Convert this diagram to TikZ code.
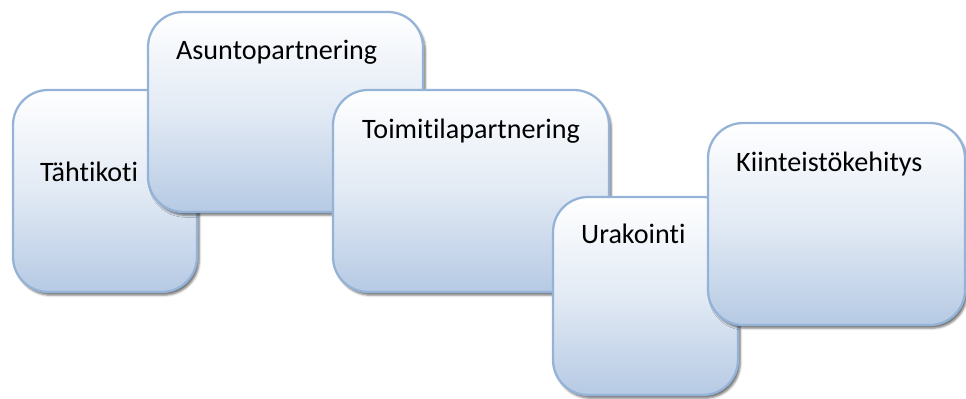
\documentclass[tikz,border=0pt]{standalone}
\usepackage{fontspec}
\setmainfont{Carlito}[Ligatures=NoCommon]
\usetikzlibrary{positioning, calc, shadows.blur}
\definecolor{edge}{RGB}{149, 179, 215}
\definecolor{deep}{RGB}{182, 202, 228}
\tikzset{
    card/.style={rectangle, rounded corners=20pt, draw=edge, line width=1.3pt, top color=white, bottom color=deep, middle color=deep!40, blur shadow={shadow xshift=1.3pt, shadow yshift=-1.8pt, shadow blur radius=1.2pt, shadow opacity=55}, inner sep=0pt},
    lbl/.style={anchor=base west, inner sep=0pt, font=\fontsize{16}{19}\selectfont}
}
\begin{document}
\begin{tikzpicture}
    \useasboundingbox (0,0) rectangle (19.32,7.96);
    \node[card, minimum width=3.68cm, minimum height=4.04cm] (koti) at (2.10,4.14) {};
    \node[lbl] (kotitxt) at ($(koti.north west)+(0.56,-1.86)$) {Tähtikoti};
    \node[card, minimum width=5.50cm, minimum height=4.00cm] (asunto) at (5.71,5.72) {};
    \node[lbl] (asuntotxt) at ($(asunto.north west)+(0.58,-0.98)$) {Asuntopartnering};
    \node[card, minimum width=5.52cm, minimum height=4.04cm] (toimi) at (9.42,4.14) {};
    \node[lbl] (toimitxt) at ($(toimi.north west)+(0.60,-1.00)$) {Toimitilapartnering};
    \node[card, minimum width=3.70cm, minimum height=3.96cm] (urak) at (12.91,2.04) {};
    \node[lbl] (uraktxt) at ($(urak.north west)+(0.58,-0.96)$) {Urakointi};
    \node[card, minimum width=5.14cm, minimum height=4.04cm] (kiint) at (16.73,3.48) {};
    \node[lbl] (kiinttxt) at ($(kiint.north west)+(0.58,-1.00)$) {Kiinteistökehitys};
\end{tikzpicture}
\end{document}
